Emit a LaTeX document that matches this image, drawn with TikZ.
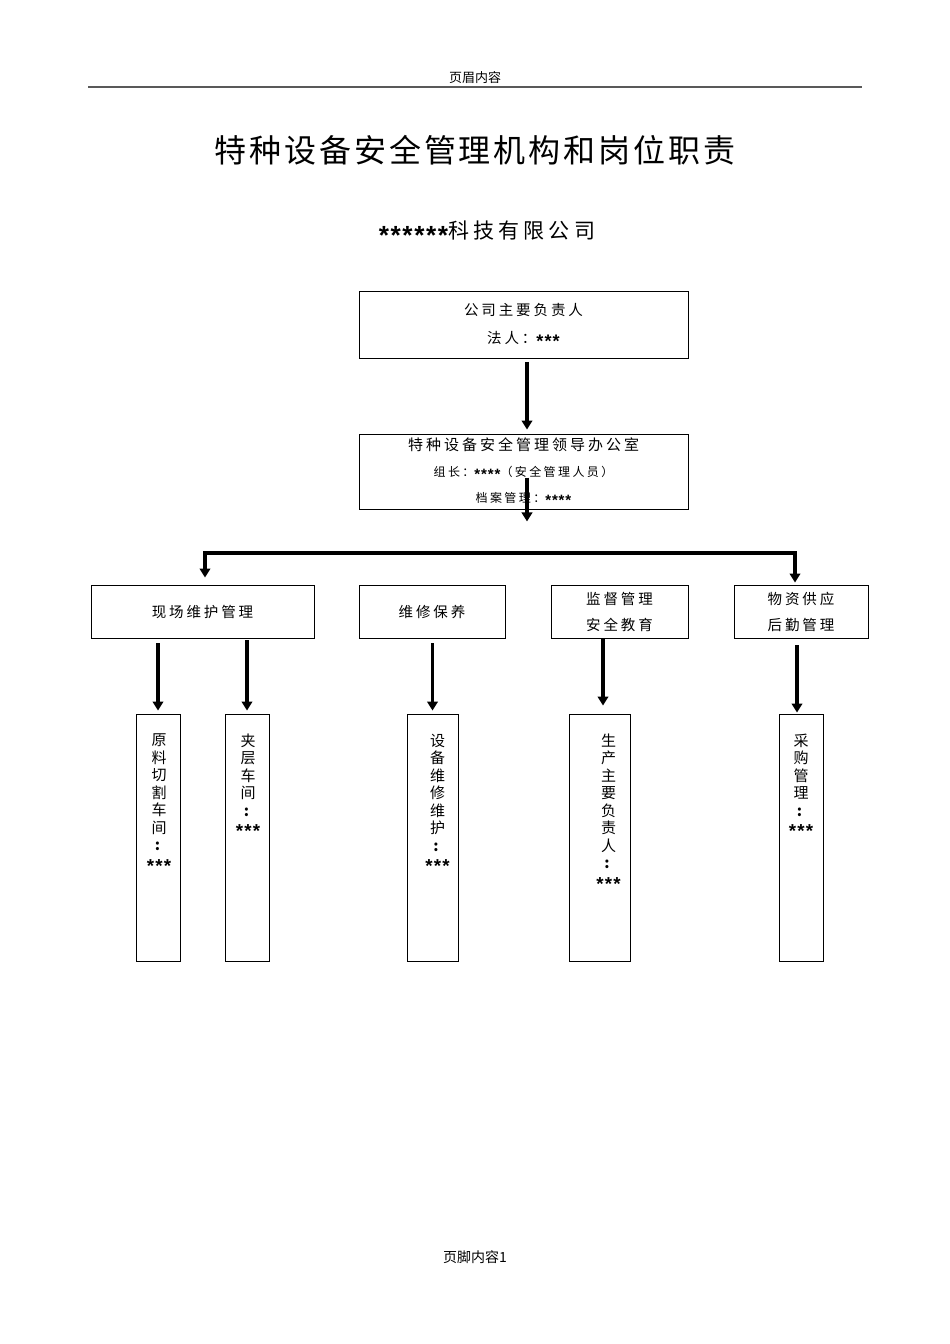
\documentclass[tikz,border=0pt]{standalone}
\usepackage{fontspec}
\setmainfont{Liberation Sans}
\newfontfamily\cjk{Noto Sans CJK SC}[LetterSpace=20]
\newfontfamily\cjkplain{Noto Sans CJK SC}
\newfontfamily\starfont{Liberation Sans}[Scale=1.25,LetterSpace=6]
\usetikzlibrary{arrows.meta,positioning,calc}

\tikzset{
  box/.style={draw,line width=0.9pt,inner sep=0pt,align=center,font=\cjk\fontsize{14.5}{26}\selectfont},
  colbox/.style={draw,line width=0.9pt,inner sep=0pt,minimum width=#1,minimum height=247pt},
  vtext/.style={inner sep=0pt,align=center,font=\cjk\fontsize{15}{17.5}\selectfont},
  arr/.style={-{Triangle[width=10.5pt,length=9pt]},line width=3.4pt},
}
\newcommand{\stars}[1]{\raisebox{-0.27em}{\starfont\bfseries #1}}

\begin{document}
\begin{tikzpicture}[x=1pt,y=-1pt,>=Latex]
\useasboundingbox (0,0) rectangle (950,1344);
% header and footer
\node[font=\cjkplain\fontsize{13}{13}\selectfont] (head) at (475,78) {页眉内容};
\coordinate (rule-l) at (88,87);
\coordinate (rule-r) at (862,87);
\draw[line width=1.8pt,black!65] (rule-l) -- (rule-r);
\node[font=\cjkplain\fontsize{14}{14}\selectfont] (foot) at (475,1257) {页脚内容1};

% titles
\node[font=\cjkplain\fontsize{32}{32}\selectfont\addfontfeature{LetterSpace=9}] (title) at (475,150) {特种设备安全管理机构和岗位职责};
\node[font=\cjk\fontsize{21}{21}\selectfont] (company) at (487,233) {{\addfontfeature{LetterSpace=14}\stars{******}}科技有限公司};

% top of the chart
\node[box,minimum width=329pt,minimum height=67pt,font=\cjk\fontsize{14.5}{28}\selectfont] (boss) at (523.5,325) {公司主要负责人\\法人：\stars{***}};
\node[box,minimum width=329pt,minimum height=75pt,font=\cjk\fontsize{12}{26}\selectfont] (office) at (523.5,471.5)
  {{\fontsize{15}{15}\selectfont 特种设备安全管理领导办公室}\\组长：\stars{****}（安全管理人员）\\档案管理：\stars{****}};

\draw[arr,shorten <=3pt,shorten >=4pt] ([xshift=3.5pt]boss.south) -- ([xshift=3.5pt]office.north);
\draw[arr] ([xshift=3.5pt,yshift=-6pt]office.center) -- ([xshift=3.5pt,yshift=-12pt]office.south);

% departments
\node[box,minimum width=223pt,minimum height=53pt] (site) at (202.5,611.5) {现场维护管理};
\node[box,minimum width=146pt,minimum height=53pt] (repair) at (432,611.5) {维修保养};
\node[box,minimum width=137pt,minimum height=53pt] (supervise) at (619.5,611.5) {监督管理\\安全教育};
\node[box,minimum width=134pt,minimum height=53pt] (supply) at (801,611.5) {物资供应\\后勤管理};

\coordinate (bus-l) at (205,553);
\coordinate (bus-r) at (795,553);
\draw[arr,shorten >=7pt] (bus-r) -- (bus-l) -- (bus-l |- site.north);
\draw[arr,shorten >=2pt] (bus-l) -- (bus-r) -- (bus-r |- supply.north);

% posts
\node[colbox=44pt] (cut) at (158,837.5) {};
\node[colbox=44pt] (mezz) at (247,837.5) {};
\node[colbox=51pt] (equip) at (432.5,837.5) {};
\node[colbox=61pt] (prod) at (599.5,837.5) {};
\node[colbox=44pt] (buy) at (801,837.5) {};

\node[vtext,below=20pt of cut.north,xshift=1pt] (cut-t) {原\\料\\切\\割\\车\\间\\\textbf{:}\\\stars{***}};
\node[vtext,below=20pt of mezz.north,xshift=1pt] (mezz-t) {夹\\层\\车\\间\\\textbf{:}\\\stars{***}};
\node[vtext,below=20pt of equip.north,xshift=5pt] (equip-t) {设\\备\\维\\修\\维\\护\\\textbf{:}\\\stars{***}};
\node[vtext,below=20pt of prod.north,xshift=9pt] (prod-t) {生\\产\\主\\要\\负\\责\\人\\\textbf{:}\\\stars{***}};
\node[vtext,below=20pt of buy.north] (buy-t) {采\\购\\管\\理\\\textbf{:}\\\stars{***}};

\draw[arr,shorten <=5pt,shorten >=3pt] (cut.north |- site.south) -- (cut.north);
\draw[arr,shorten <=2pt,shorten >=3pt] (mezz.north |- site.south) -- (mezz.north);
\draw[arr,shorten <=5pt,shorten >=3pt] (equip.north |- repair.south) -- (equip.north);
\draw[arr,shorten >=8pt] ([xshift=3.5pt]prod.north |- supervise.south) -- ([xshift=3.5pt]prod.north);
\draw[arr,shorten <=7pt,shorten >=1pt] ([xshift=-4pt]buy.north |- supply.south) -- ([xshift=-4pt]buy.north);
\end{tikzpicture}
\end{document}
